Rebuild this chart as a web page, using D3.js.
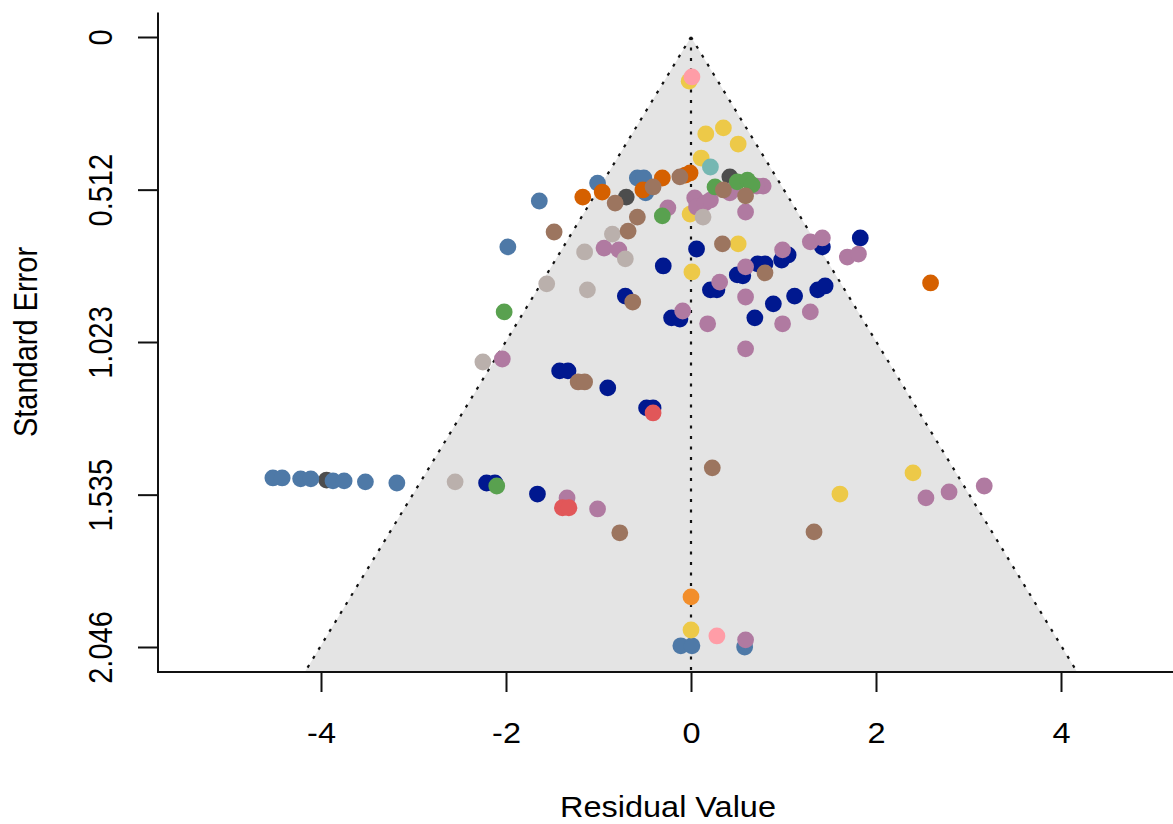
<!DOCTYPE html>
<html>
<head>
<meta charset="utf-8">
<script src="https://cdn.jsdelivr.net/npm/d3@7"></script>
<style>
  body { margin: 0; background: #fff; }
  svg { display: block; }
  text { font-family: "Liberation Sans", Arial, Helvetica, sans-serif; }
</style>
</head>
<body>
<svg id="chart" width="1173" height="824"></svg>
<script>
// residual value (x) and standard error (y) per study, plus its colour group
const residuals = [
  -0.02, 0.01, 0.16, 0.35, 0.51, 0.11, 0.21, -0.01, -0.06, -0.12,
  -0.31, -0.58, -0.51, -0.49, -0.52, -0.41, -0.70, -1.01, -0.96, -1.17,
  -1.64, -0.82, -0.58, -0.68, -1.48, -0.85, -0.25, -0.31, -0.01, 0.13,
  0.04, 0.06, 0.15, 0.21, 0.42, 0.35, 0.26, 0.42, 0.50, 0.61,
  0.66, 0.78, 0.71, 0.59, 0.59, 0.45, -1.98, -1.15, -0.94, -0.78,
  -0.71, -0.30, 0.06, 0.34, 0.51, 0.01, 1.83, 1.29, 1.42, 1.42,
  1.69, 1.81, 0.99, 1.05, 0.98, 0.72, 0.80, 0.59, 0.80, 0.50,
  0.56, 0.31, 0.21, 0.28, -1.56, -1.12, -0.71, -0.63, -2.02, -0.09,
  -0.21, -0.12, 1.12, 1.37, 1.45, 0.59, 0.89, 0.69, 1.29, 0.18,
  0.99, 0.59, -2.25, -2.04, -1.42, -1.33, -1.22, -1.15, -0.90, -0.48,
  -0.41, -0.41, 2.59, -4.52, -4.42, -4.22, -4.11, -3.94, -3.87, -3.75,
  -3.52, -3.18, -2.55, -2.21, -2.12, -2.10, -1.66, -1.34, -1.39, -1.32,
  -1.01, -0.77, 0.23, 1.61, 1.33, 2.40, 2.54, 2.79, 3.17, 0.00,
  0.00, -0.11, 0.01, 0.28, 0.58, 0.59
];
const stdErrors = [
  0.148, 0.134, 0.325, 0.305, 0.359, 0.406, 0.436, 0.456, 0.463, 0.469,
  0.473, 0.473, 0.473, 0.523, 0.513, 0.503, 0.537, 0.490, 0.520, 0.537,
  0.550, 0.557, 0.604, 0.651, 0.654, 0.661, 0.573, 0.600, 0.594, 0.604,
  0.540, 0.570, 0.557, 0.547, 0.523, 0.513, 0.503, 0.469, 0.486, 0.480,
  0.496, 0.500, 0.500, 0.533, 0.587, 0.513, 0.704, 0.721, 0.708, 0.714,
  0.744, 0.768, 0.711, 0.694, 0.694, 0.788, 0.674, 0.687, 0.674, 0.704,
  0.738, 0.728, 0.714, 0.731, 0.748, 0.761, 0.761, 0.771, 0.791, 0.798,
  0.801, 0.822, 0.848, 0.848, 0.828, 0.848, 0.869, 0.889, 0.922, 0.919,
  0.942, 0.946, 0.869, 0.848, 0.835, 0.872, 0.895, 0.942, 0.922, 0.962,
  0.962, 1.046, 1.090, 1.080, 1.120, 1.120, 1.157, 1.157, 1.177, 1.244,
  1.244, 1.261, 0.825, 1.479, 1.479, 1.482, 1.482, 1.486, 1.489, 1.489,
  1.492, 1.496, 1.492, 1.496, 1.496, 1.506, 1.533, 1.546, 1.579, 1.579,
  1.583, 1.663, 1.445, 1.533, 1.660, 1.462, 1.546, 1.526, 1.506, 1.878,
  1.989, 2.042, 2.042, 2.009, 2.046, 2.022
];
const groups = [
  "yellow", "pink", "yellow", "yellow", "yellow", "yellow", "teal", "vermilion", "vermilion", "brown",
  "vermilion", "blue", "blue", "blue", "vermilion", "brown", "grey", "blue", "vermilion", "vermilion",
  "blue", "brown", "brown", "brown", "brown", "beige", "purple", "green", "yellow", "beige",
  "purple", "purple", "purple", "purple", "purple", "brown", "green", "grey", "green", "green",
  "green", "purple", "purple", "brown", "purple", "purple", "blue", "beige", "purple", "purple",
  "beige", "navy", "navy", "brown", "yellow", "yellow", "navy", "purple", "purple", "navy",
  "purple", "purple", "purple", "navy", "navy", "navy", "navy", "purple", "brown", "navy",
  "navy", "purple", "navy", "navy", "beige", "beige", "navy", "brown", "green", "purple",
  "navy", "navy", "navy", "navy", "navy", "purple", "navy", "navy", "purple", "purple",
  "purple", "purple", "beige", "purple", "navy", "navy", "brown", "brown", "navy", "navy",
  "navy", "red", "vermilion", "blue", "blue", "blue", "blue", "grey", "blue", "blue",
  "blue", "blue", "beige", "navy", "navy", "green", "navy", "purple", "red", "red",
  "purple", "brown", "brown", "yellow", "brown", "yellow", "purple", "purple", "purple", "orange",
  "yellow", "blue", "blue", "pink", "blue", "purple"
];

// drawing order of the groups (later ones sit on top)
const groupOrder = ["grey", "blue", "navy", "vermilion", "yellow", "purple", "green", "beige", "brown", "red", "teal", "pink", "orange"];
const groupColors = ["#4d4d4d", "#4e79a7", "#00188f", "#d56000", "#edc948", "#b07aa1", "#59a14f", "#bab0ac", "#9c755f", "#e15759", "#76b7b2", "#ff9da7", "#f28e2b"];

const xTicks = [-4, -2, 0, 2, 4];
const yTicks = [0, 0.512, 1.023, 1.535, 2.046];
const yTickLabels = ["0", "0.512", "1.023", "1.535", "2.046"];

const svg = d3.select("#chart");

// plot region
const plotLeft = 158, plotRight = 1173, plotTop = 12.6, plotBottom = 672;
const x = d3.scaleLinear().domain([-4, 4]).range([321, 1061]);
const y = d3.scaleLinear().domain([0, 2.046]).range([37, 647]);
const seMax = y.invert(plotBottom);
const crit = 1.96;

const color = d3.scaleOrdinal().domain(groupOrder).range(groupColors);

// funnel region
svg.append("path")
  .attr("d", d3.line()([
    [x(0), y(0)],
    [x(-crit * seMax), y(seMax)],
    [x(crit * seMax), y(seMax)]
  ]) + "Z")
  .attr("fill", "#e4e4e4");

const funnelLines = [
  [[0, 0], [-crit * seMax, seMax]],
  [[0, 0], [crit * seMax, seMax]],
  [[0, 0], [0, seMax]]
];
svg.append("g")
  .selectAll("path")
  .data(funnelLines)
  .join("path")
  .attr("d", d3.line().x((d) => x(d[0])).y((d) => y(d[1])))
  .attr("fill", "none")
  .attr("stroke", "#111")
  .attr("stroke-width", 2.2)
  .attr("stroke-dasharray", "3,7.5");

// points
const points = residuals.map((r, i) => ({ r, se: stdErrors[i], g: groups[i], i }));
points.sort((a, b) => groupOrder.indexOf(a.g) - groupOrder.indexOf(b.g) || a.i - b.i);

svg.append("g")
  .selectAll("circle")
  .data(points)
  .join("circle")
  .attr("cx", (d) => x(d.r))
  .attr("cy", (d) => y(d.se))
  .attr("r", 8.4)
  .attr("fill", (d) => color(d.g));

// axes (R style: L-shaped frame, long ticks)
const stretch = "scale(1.12,1)";
const fontSize = 29;

const xAxis = svg.append("g")
  .attr("transform", `translate(0,${plotBottom})`)
  .call(d3.axisBottom(x).tickValues(xTicks).tickSize(20).tickPadding(30));
xAxis.select(".domain").remove();
xAxis.selectAll(".tick line").attr("stroke", "#111").attr("stroke-width", 2);
xAxis.selectAll(".tick text")
  .attr("font-size", fontSize)
  .attr("fill", "#000")
  .attr("y", 50)
  .attr("dy", "0.71em")
  .attr("transform", stretch)
  .text((d) => (d < 0 ? "-" + Math.abs(d) : d));

const yAxis = svg.append("g")
  .attr("transform", `translate(${plotLeft},0)`)
  .call(d3.axisLeft(y).tickValues(yTicks).tickSize(20));
yAxis.select(".domain").remove();
yAxis.selectAll(".tick line").attr("stroke", "#111").attr("stroke-width", 2);
yAxis.selectAll(".tick text")
  .attr("font-size", fontSize)
  .attr("fill", "#000")
  .attr("x", null)
  .attr("dy", null)
  .attr("text-anchor", "middle")
  .attr("transform", `translate(-46,0) ${stretch} rotate(-90)`)
  .text((d, i) => yTickLabels[i]);
svg.selectAll("g").attr("font-family", null);

// frame lines
svg.append("line")
  .attr("x1", plotLeft).attr("x2", plotLeft).attr("y1", plotTop).attr("y2", plotBottom + 1)
  .attr("stroke", "#111").attr("stroke-width", 2);
svg.append("line")
  .attr("x1", plotLeft - 1).attr("x2", plotRight).attr("y1", plotBottom).attr("y2", plotBottom)
  .attr("stroke", "#111").attr("stroke-width", 2);

// axis titles
svg.append("text")
  .attr("transform", `translate(668,817) ${stretch}`)
  .attr("text-anchor", "middle")
  .attr("font-size", fontSize)
  .text("Residual Value");

svg.append("text")
  .attr("transform", `translate(37,342) ${stretch} rotate(-90)`)
  .attr("text-anchor", "middle")
  .attr("font-size", fontSize)
  .text("Standard Error");
</script>
</body>
</html>
